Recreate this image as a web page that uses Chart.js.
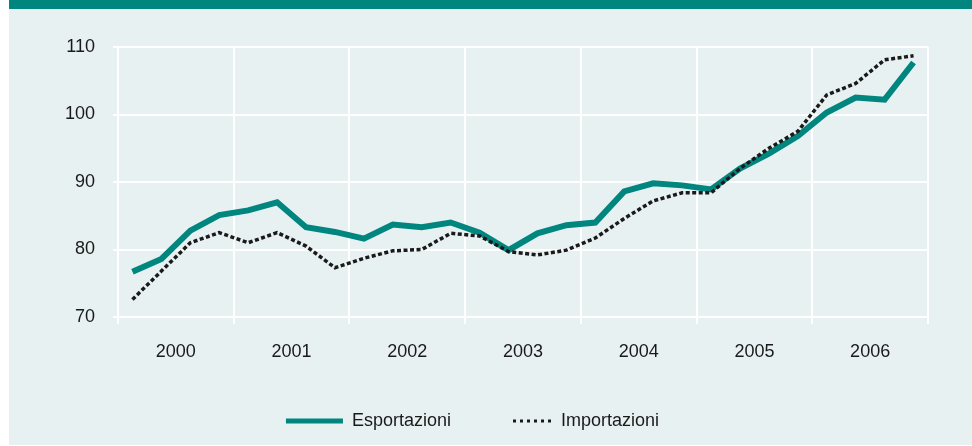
<!DOCTYPE html>
<html lang="it">
<head>
<meta charset="utf-8">
<title>Esportazioni e importazioni</title>
<script src="https://cdn.jsdelivr.net/npm/chart.js@4.4.1/dist/chart.umd.min.js"></script>
<style>
	html, body { margin: 0; padding: 0; background: #ffffff; overflow: hidden; width: 972px; height: 446px; }
	#topBand { position: absolute; left: 9px; top: 0; width: 963px; height: 9px; background: #00857f; }
	#panel { position: absolute; left: 9px; top: 9px; width: 963px; height: 436px; background: #e7f1f2; }
	#chartWrap { position: absolute; left: 0; top: 0; width: 972px; height: 446px; }
</style>
</head>
<body>
<div id="topBand"></div>
<div id="panel"></div>
<div id="chartWrap"><canvas id="tradeChart" width="972" height="446"></canvas></div>
<script>
	// Years on the x axis (one band of four quarters each)
	var years = ['2000', '2001', '2002', '2003', '2004', '2005', '2006'];
	// Quarterly index values, 2000 Q1 .. 2006 Q4
	var esportazioni = [76.7, 78.6, 82.8, 85.1, 85.8, 87.0, 83.3, 82.6, 81.6, 83.7, 83.3, 84.0, 82.5, 79.9,
		82.4, 83.6, 84.0, 88.6, 89.8, 89.5, 88.9, 92.0, 94.2, 96.8, 100.3, 102.5, 102.2, 107.7];
	var importazioni = [72.6, 76.8, 81.0, 82.5, 81.0, 82.5, 80.5, 77.3, 78.7, 79.8, 80.0, 82.4, 82.0, 79.7,
		79.2, 79.9, 81.7, 84.6, 87.2, 88.4, 88.4, 92.0, 95.0, 97.5, 102.9, 104.6, 108.1, 108.7];
	var yTicks = [70, 80, 90, 100, 110];

	var TEAL = '#00857f';
	var INK = '#1a1a1a';
	var FONT = "'Liberation Sans', Arial, Helvetica, sans-serif";

	/**
	 * Quarter i sits in the middle of its slot on a 0..28 linear axis
	 */
	function toPoints(values) {
		var pts = [];
		values.forEach(function (v, i) {
			pts.push({x: i + 0.5, y: v});
		});
		return pts;
	}

	Chart.defaults.font.family = FONT;
	Chart.defaults.font.size = 18;
	Chart.defaults.color = INK;

	var defaultLabels = Chart.defaults.plugins.legend.labels.generateLabels;

	var tradeChart = new Chart(document.getElementById('tradeChart'), {
		type: 'line',
		data: {
			datasets: [
				{
					label: 'Esportazioni',
					data: toPoints(esportazioni),
					borderColor: TEAL,
					backgroundColor: TEAL,
					borderWidth: 6,
					borderJoinStyle: 'miter',
					pointRadius: 0,
					pointStyle: 'line',
					order: 2
				},
				{
					label: 'Importazioni',
					data: toPoints(importazioni),
					borderColor: INK,
					backgroundColor: INK,
					borderWidth: 3.5,
					borderDash: [4, 2.5],
					pointRadius: 0,
					pointStyle: 'line',
					order: 1
				}
			]
		},
		options: {
			responsive: false,
			animation: false,
			devicePixelRatio: 1,
			layout: {padding: {left: 17, right: 44, top: 47, bottom: 6}},
			plugins: {
				tooltip: {enabled: false},
				legend: {
					position: 'bottom',
					labels: {
						usePointStyle: true,
						pointStyleWidth: 57,
						padding: 44,
						color: INK,
						font: {size: 18},
						sort: function (a, b) { return a.datasetIndex - b.datasetIndex; },
						// Legend swatches: solid bar for exports, short dotted run for imports
						generateLabels: function (chart) {
							var items = defaultLabels(chart);
							items.forEach(function (item) {
								if (item.datasetIndex === 1) {
									item.lineWidth = 3;
									item.lineDash = [0, 18, 3, 4, 3, 4, 3, 4, 3, 4, 3, 4, 3, 60];
								} else {
									item.lineWidth = 5;
									item.lineDash = [];
								}
							});
							return items;
						}
					}
				}
			},
			scales: {
				x: {
					type: 'linear',
					min: 0,
					max: years.length * 4,
					afterFit: function (scale) { scale.height = 51; },
					border: {display: false},
					grid: {
						lineWidth: 2,
						tickLength: 7,
						color: function (ctx) {
							return ctx.tick && ctx.tick.value % 4 === 0 ? '#ffffff' : 'rgba(0,0,0,0)';
						}
					},
					ticks: {
						stepSize: 2,
						autoSkip: false,
						maxRotation: 0,
						padding: 17,
						callback: function (value) {
							return value % 4 === 2 ? years[(value - 2) / 4] : '';
						}
					}
				},
				y: {
					min: yTicks[0],
					max: yTicks[yTicks.length - 1],
					afterFit: function (scale) { scale.width = 101; },
					border: {display: false},
					grid: {color: '#ffffff', lineWidth: 2, tickLength: 5},
					ticks: {stepSize: 10, padding: 18}
				}
			}
		}
	});
</script>
</body>
</html>
